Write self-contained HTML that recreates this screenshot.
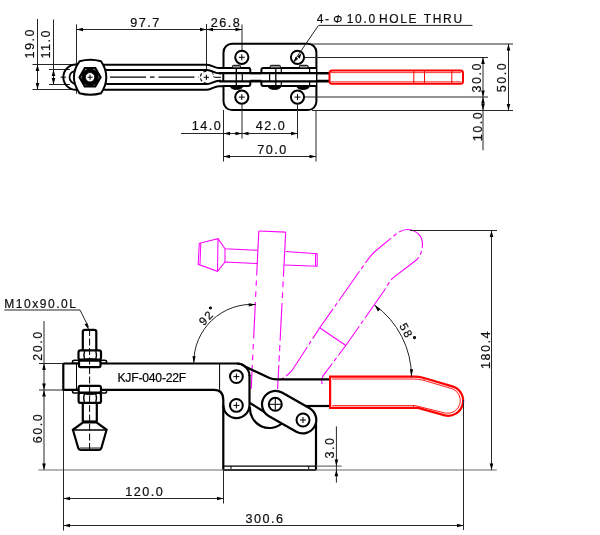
<!DOCTYPE html>
<html><head><meta charset="utf-8"><style>
html,body{margin:0;padding:0;background:#fff;width:600px;height:535px;overflow:hidden}
svg{display:block;will-change:transform}
text{font-family:"Liberation Sans",sans-serif;stroke:#000;stroke-width:0.2px}
</style></head><body>
<svg width="600" height="535" viewBox="0 0 600 535">
<line x1="37.5" y1="19" x2="37.5" y2="90" stroke="#262626" stroke-width="1" />
<polygon points="37.50,64.50 39.30,71.00 35.70,71.00" fill="#000"/>
<polygon points="37.50,89.50 35.70,83.00 39.30,83.00" fill="#000"/>
<line x1="32.5" y1="64.5" x2="76" y2="64.5" stroke="#262626" stroke-width="1" />
<line x1="32.5" y1="89.5" x2="76" y2="89.5" stroke="#262626" stroke-width="1" />
<text x="34.5" y="43.2" font-size="12.6" letter-spacing="1.5" text-anchor="middle" fill="#111" transform="rotate(-90 34.5 43.2)" >19.0</text>
<line x1="53.5" y1="19.5" x2="53.5" y2="85" stroke="#262626" stroke-width="1" />
<polygon points="53.50,69.50 55.30,76.00 51.70,76.00" fill="#000"/>
<polygon points="53.50,84.50 51.70,78.00 55.30,78.00" fill="#000"/>
<line x1="49" y1="69.5" x2="70" y2="69.5" stroke="#262626" stroke-width="1" />
<line x1="49" y1="84.5" x2="70" y2="84.5" stroke="#262626" stroke-width="1" />
<text x="50.5" y="43.8" font-size="12.6" letter-spacing="1.5" text-anchor="middle" fill="#111" transform="rotate(-90 50.5 43.8)" >11.0</text>
<line x1="76.5" y1="29.5" x2="242" y2="29.5" stroke="#262626" stroke-width="1" />
<line x1="76.5" y1="24.4" x2="76.5" y2="93.75" stroke="#262626" stroke-width="1" />
<line x1="206.5" y1="24" x2="206.5" y2="71" stroke="#262626" stroke-width="1" />
<line x1="242" y1="24.5" x2="242" y2="50" stroke="#262626" stroke-width="1" />
<polygon points="76.50,29.50 83.00,27.70 83.00,31.30" fill="#000"/>
<polygon points="206.50,29.50 200.00,31.30 200.00,27.70" fill="#000"/>
<polygon points="206.50,29.50 213.00,27.70 213.00,31.30" fill="#000"/>
<polygon points="242.00,29.50 235.50,31.30 235.50,27.70" fill="#000"/>
<text x="145.5" y="27" font-size="12.6" letter-spacing="1.5" text-anchor="middle" fill="#111" >97.7</text>
<text x="226" y="27" font-size="12.6" letter-spacing="1.5" text-anchor="middle" fill="#111" >26.8</text>
<text x="316.8" y="22.8" font-size="12" letter-spacing="1.6" text-anchor="start" fill="#111" >4-</text>
<text x="333.2" y="22.6" font-size="10.5" letter-spacing="0" text-anchor="start" fill="#111" font-style="italic">&#934;</text>
<text x="346.8" y="22.8" font-size="12" letter-spacing="1.65" text-anchor="start" fill="#111" >10.0</text>
<text x="379" y="22.8" font-size="12" letter-spacing="1.65" text-anchor="start" fill="#111" >HOLE</text>
<text x="423.8" y="22.8" font-size="12" letter-spacing="1.65" text-anchor="start" fill="#111" >THRU</text>
<line x1="318.5" y1="25.4" x2="472.5" y2="25.4" stroke="#262626" stroke-width="1" />
<path d="M76,64.5 A12.6,12.6 0 0 0 76,89.8" stroke="#000" stroke-width="2" fill="none" />
<path d="M76,70.8 A6.5,6.5 0 0 0 76,83.8" stroke="#000" stroke-width="1.8" fill="none" />
<path d="M76,64.75 L207,64.75 C212,64.75 214,68 219,68 L250,68" stroke="#000" stroke-width="2" fill="none" />
<path d="M76,69.9 L207,69.9 C212,69.9 214,73.3 219,73.3 L330,73.3" stroke="#000" stroke-width="2" fill="none" />
<path d="M76,84.1 L207,84.1 C212,84.1 214,80.8 219,80.8 L330,80.8" stroke="#000" stroke-width="2" fill="none" />
<path d="M76,89.75 L207,89.75 C212,89.75 214,86.2 219,86.2 L223,86.2" stroke="#000" stroke-width="2" fill="none" />
<line x1="110" y1="77.2" x2="199" y2="77.2" stroke="#000" stroke-width="1.2" stroke-dasharray="36 4 4.5 4"/>
<line x1="60.5" y1="77.2" x2="66" y2="77.2" stroke="#000" stroke-width="1" />
<path d="M79.5,61.3 Q90.5,58.3 101,61.3 C105,67 106.3,71 106.3,77.3 C106.3,83.5 105,87.5 101,93.3 Q90.5,96.3 79.5,93.3 C76,88 73.9,83.5 73.9,77.3 C73.9,71 76,66 79.5,61.3 Z" stroke="#000" stroke-width="2" fill="#fff" />
<polygon points="100.55,77.25 95.30,86.34 84.80,86.34 79.55,77.25 84.80,68.16 95.30,68.16" fill="#fff" stroke="#000" stroke-width="2.2"/>
<circle cx="90.05" cy="77.25" r="8.7" stroke="#000" stroke-width="0" fill="#000" />
<circle cx="90.05" cy="77.25" r="4.7" stroke="#000" stroke-width="0.9" fill="#fff" />
<line x1="87.55" y1="77.25" x2="92.55" y2="77.25" stroke="#000" stroke-width="1" />
<line x1="90.05" y1="74.75" x2="90.05" y2="79.75" stroke="#000" stroke-width="1" />
<path d="M206.4,71.2 A6,6 0 0 0 206.4,83.2" stroke="#000" stroke-width="1.1" fill="none" stroke-dasharray="3.2 2"/>
<path d="M212.2,72.2 Q213.5,75 214.3,77.6" stroke="#000" stroke-width="1" fill="none" stroke-dasharray="2.5 1.5"/>
<line x1="203.8" y1="77.3" x2="209.0" y2="77.3" stroke="#000" stroke-width="1" />
<line x1="206.4" y1="74.7" x2="206.4" y2="79.89999999999999" stroke="#000" stroke-width="1" />
<line x1="214.8" y1="77.3" x2="222" y2="77.3" stroke="#000" stroke-width="1" />
<rect x="223.5" y="43.7" width="92.9" height="66.4" rx="8.5" ry="8.5" fill="none" stroke="#000" stroke-width="2"/>
<line x1="297.5" y1="57.5" x2="488" y2="57.5" stroke="#262626" stroke-width="1" />
<line x1="297.5" y1="97" x2="488" y2="97" stroke="#262626" stroke-width="1" />
<line x1="312" y1="44" x2="513" y2="44" stroke="#262626" stroke-width="1" />
<line x1="312" y1="110.5" x2="513" y2="110.5" stroke="#262626" stroke-width="1" />
<circle cx="241.8" cy="57.3" r="6.6" stroke="#000" stroke-width="2" fill="#fff" />
<line x1="238.8" y1="57.3" x2="244.8" y2="57.3" stroke="#000" stroke-width="1" />
<line x1="241.8" y1="54.3" x2="241.8" y2="60.3" stroke="#000" stroke-width="1" />
<circle cx="297.5" cy="57.3" r="6.6" stroke="#000" stroke-width="2" fill="#fff" />
<circle cx="241.8" cy="97.1" r="6.6" stroke="#000" stroke-width="2" fill="#fff" />
<line x1="238.8" y1="97.1" x2="244.8" y2="97.1" stroke="#000" stroke-width="1" />
<line x1="241.8" y1="94.1" x2="241.8" y2="100.1" stroke="#000" stroke-width="1" />
<circle cx="297.5" cy="97.1" r="6.6" stroke="#000" stroke-width="2" fill="#fff" />
<line x1="294.5" y1="97.1" x2="300.5" y2="97.1" stroke="#000" stroke-width="1" />
<line x1="297.5" y1="94.1" x2="297.5" y2="100.1" stroke="#000" stroke-width="1" />
<line x1="318.5" y1="25.4" x2="293" y2="62.5" stroke="#262626" stroke-width="1" />
<polygon points="301.60,53.00 299.85,58.45 297.20,56.66" fill="#000"/>
<polygon points="293.80,62.30 295.55,56.85 298.20,58.64" fill="#000"/>
<rect x="221" y="69" width="29.3" height="16" fill="#fff"/>
<line x1="223.3" y1="73.2" x2="223.3" y2="81.3" stroke="#000" stroke-width="2" />
<rect x="261.4" y="68" width="54.6" height="18" fill="#fff"/>
<path d="M223.5,68 L248.3,68 Q250.3,68 250.3,70 L250.3,73.1 M223.5,86 L248.3,86 Q250.3,86 250.3,84 L250.3,81.4" stroke="#000" stroke-width="2" fill="none" />
<path d="M261.4,73.1 L261.4,70 Q261.4,68 263.4,68 L316,68 M261.4,81.4 L261.4,84 Q261.4,86 263.4,86 L316,86" stroke="#000" stroke-width="2" fill="none" />
<line x1="236.3" y1="68" x2="236.3" y2="86" stroke="#000" stroke-width="1.3" />
<line x1="242.3" y1="73.1" x2="242.3" y2="81.4" stroke="#000" stroke-width="1.2" />
<line x1="269.6" y1="73.1" x2="269.6" y2="81.4" stroke="#000" stroke-width="1.2" />
<line x1="275.8" y1="68" x2="275.8" y2="86" stroke="#000" stroke-width="1.3" />
<line x1="281.3" y1="68" x2="281.3" y2="73.1" stroke="#000" stroke-width="1.2" />
<line x1="281.3" y1="81.4" x2="281.3" y2="86" stroke="#000" stroke-width="1.2" />
<line x1="309.6" y1="68" x2="309.6" y2="73.1" stroke="#000" stroke-width="1.2" />
<line x1="309.6" y1="81.4" x2="309.6" y2="86" stroke="#000" stroke-width="1.2" />
<path d="M219,73.2 L330,73.2" stroke="#000" stroke-width="2.2" fill="none" />
<path d="M219,81.3 L330,81.3" stroke="#000" stroke-width="2.2" fill="none" />
<rect x="232.5" y="65.3" width="8.0" height="2.7" rx="1" fill="#999" stroke="#000" stroke-width="1"/>
<rect x="270.2" y="65.3" width="10.199999999999989" height="2.7" rx="1" fill="#999" stroke="#000" stroke-width="1"/>
<rect x="299.3" y="65.3" width="8.800000000000011" height="2.7" rx="1" fill="#999" stroke="#000" stroke-width="1"/>
<path d="M230,86 Q231,89.4 236.5,89.4 Q242,89.4 243,86 Z" stroke="#000" stroke-width="1" fill="#000" />
<path d="M267.8,86 Q268.8,89.4 274.55,89.4 Q280.3,89.4 281.3,86 Z" stroke="#000" stroke-width="1" fill="#000" />
<path d="M296.4,86 Q297.4,89.4 303.1,89.4 Q308.8,89.4 309.8,86 Z" stroke="#000" stroke-width="1" fill="#000" />
<rect x="329.5" y="70.5" width="133.5" height="13.3" rx="2.5" ry="2.5" fill="#fff" stroke="#f00" stroke-width="2"/>
<line x1="331" y1="72.6" x2="461" y2="72.6" stroke="#f00" stroke-width="0.8" />
<line x1="331" y1="81.8" x2="461" y2="81.8" stroke="#f00" stroke-width="0.8" />
<line x1="413.8" y1="70.5" x2="413.8" y2="83.8" stroke="#f00" stroke-width="1" />
<line x1="424.5" y1="70.5" x2="424.5" y2="83.8" stroke="#f00" stroke-width="1" />
<line x1="451.8" y1="70.5" x2="451.8" y2="83.8" stroke="#f00" stroke-width="1" />
<line x1="483" y1="57.5" x2="483" y2="150.3" stroke="#262626" stroke-width="1" />
<polygon points="483.00,57.50 484.80,64.00 481.20,64.00" fill="#000"/>
<polygon points="483.00,97.00 481.20,90.50 484.80,90.50" fill="#000"/>
<polygon points="483.00,97.00 484.80,103.50 481.20,103.50" fill="#000"/>
<polygon points="483.00,110.30 481.20,103.80 484.80,103.80" fill="#000"/>
<text x="481" y="77.2" font-size="12.6" letter-spacing="1.5" text-anchor="middle" fill="#111" transform="rotate(-90 481 77.2)" >30.0</text>
<text x="481.5" y="126" font-size="12.6" letter-spacing="1.5" text-anchor="middle" fill="#111" transform="rotate(-90 481.5 126)" >10.0</text>
<line x1="508.5" y1="44" x2="508.5" y2="110.5" stroke="#262626" stroke-width="1" />
<polygon points="508.50,44.00 510.30,50.50 506.70,50.50" fill="#000"/>
<polygon points="508.50,110.50 506.70,104.00 510.30,104.00" fill="#000"/>
<text x="506" y="77" font-size="12.6" letter-spacing="1.5" text-anchor="middle" fill="#111" transform="rotate(-90 506 77)" >50.0</text>
<line x1="223.5" y1="110" x2="223.5" y2="161.5" stroke="#262626" stroke-width="1" />
<line x1="316" y1="110" x2="316" y2="161.5" stroke="#262626" stroke-width="1" />
<line x1="242" y1="104" x2="242" y2="138.5" stroke="#262626" stroke-width="1" />
<line x1="297.5" y1="104" x2="297.5" y2="138.5" stroke="#262626" stroke-width="1" />
<line x1="181" y1="133.5" x2="297.5" y2="133.5" stroke="#262626" stroke-width="1" />
<polygon points="223.50,133.50 230.00,131.70 230.00,135.30" fill="#000"/>
<polygon points="242.00,133.50 235.50,135.30 235.50,131.70" fill="#000"/>
<polygon points="242.00,133.50 248.50,131.70 248.50,135.30" fill="#000"/>
<polygon points="297.50,133.50 291.00,135.30 291.00,131.70" fill="#000"/>
<text x="207" y="130.3" font-size="12.6" letter-spacing="1.5" text-anchor="middle" fill="#111" >14.0</text>
<text x="271" y="130.3" font-size="12.6" letter-spacing="1.5" text-anchor="middle" fill="#111" >42.0</text>
<line x1="223.5" y1="156.5" x2="316" y2="156.5" stroke="#262626" stroke-width="1" />
<polygon points="223.50,156.50 230.00,154.70 230.00,158.30" fill="#000"/>
<polygon points="316.00,156.50 309.50,158.30 309.50,154.70" fill="#000"/>
<text x="272.5" y="154.3" font-size="12.6" letter-spacing="1.5" text-anchor="middle" fill="#111" >70.0</text>
<path d="M258.8,231 L285.7,232.1" stroke="#ff00ff" stroke-width="1.1" fill="none" />
<line x1="258.8" y1="231" x2="256.66" y2="275.5" stroke="#ff00ff" stroke-width="1.1" />
<line x1="256.42" y1="280.5" x2="256.17" y2="285.7" stroke="#ff00ff" stroke-width="1.1" />
<line x1="255.9" y1="291.2" x2="255.63" y2="296.9" stroke="#ff00ff" stroke-width="1.1" />
<line x1="255.38" y1="302" x2="253.63" y2="338.4" stroke="#ff00ff" stroke-width="1.1" />
<line x1="253.36" y1="344" x2="253.1" y2="349.5" stroke="#ff00ff" stroke-width="1.1" />
<line x1="252.86" y1="354.5" x2="252.59" y2="360.2" stroke="#ff00ff" stroke-width="1.1" />
<line x1="252.35" y1="365" x2="251.2" y2="389" stroke="#ff00ff" stroke-width="1.1" />
<line x1="285.7" y1="232.1" x2="283.4" y2="276.7" stroke="#ff00ff" stroke-width="1.1" />
<line x1="283.17" y1="281.2" x2="282.85" y2="287.4" stroke="#ff00ff" stroke-width="1.1" />
<line x1="282.59" y1="292.4" x2="282.3" y2="298" stroke="#ff00ff" stroke-width="1.1" />
<line x1="282.04" y1="303" x2="280.09" y2="340.8" stroke="#ff00ff" stroke-width="1.1" />
<line x1="279.87" y1="345" x2="279.56" y2="351.1" stroke="#ff00ff" stroke-width="1.1" />
<line x1="279.33" y1="355.4" x2="279.02" y2="361.5" stroke="#ff00ff" stroke-width="1.1" />
<line x1="278.84" y1="365" x2="277.6" y2="389" stroke="#ff00ff" stroke-width="1.1" />
<path d="M285.7,251.5 L317.2,253.8 L317.2,266.2 L284.5,265" stroke="#ff00ff" stroke-width="1.05" fill="none" />
<line x1="315.5" y1="254" x2="315.5" y2="266" stroke="#ff00ff" stroke-width="1" />
<path d="M257.7,250.3 L225,248.7 L218,238.7 L199.3,243.3 L198.2,264.3 L217.5,271.3 L225,262 L257.3,263.6" stroke="#ff00ff" stroke-width="1.05" fill="none" />
<line x1="225" y1="248.7" x2="225" y2="262" stroke="#ff00ff" stroke-width="1.05" />
<line x1="218" y1="238.7" x2="217.5" y2="271.3" stroke="#ff00ff" stroke-width="1.05" />
<line x1="200.8" y1="243" x2="200" y2="264.5" stroke="#ff00ff" stroke-width="1" />
<path d="M277.6,381 Q285,378 291.9,370.7 L319.7,327.8 L364,265 Q369,257 375.5,251 L398,232.5 C410,225 423,233 422.5,245 C422,252 420,256 417,259.5 L393,277.8 Q389,282 386,288 L345.8,345.5 L342.4,350 L323,375.8 Q321,380 322.2,384.2" stroke="#ff00ff" stroke-width="1.1" fill="none" stroke-dasharray="36 3 4 3" stroke-dashoffset="-10"/>
<line x1="319.7" y1="327.8" x2="345.8" y2="345.5" stroke="#ff00ff" stroke-width="1.1" />
<path d="M63.3,363.5 L237,363.5 Q241.5,363.5 245,366.5 L269.5,378 Q272.5,379.3 276.5,379.3 L331,379.3" stroke="#000" stroke-width="2.2" fill="none" />
<path d="M63.3,363.3 L63.3,389.8 L214,389.8 Q223.3,389.8 223.3,400 L223.3,470" stroke="#000" stroke-width="2.2" fill="none" />
<line x1="76.5" y1="363.3" x2="76.5" y2="389.8" stroke="#000" stroke-width="1" />
<line x1="219.6" y1="363.3" x2="219.6" y2="389.8" stroke="#000" stroke-width="1" />
<text x="117.4" y="382.2" font-size="12.2" letter-spacing="-0.22" text-anchor="start" fill="#000" >KJF-040-22F</text>
<path d="M249.5,375 L249.5,405 A13.1,13.1 0 0 1 223.3,405" stroke="#000" stroke-width="2.2" fill="none" />
<path d="M237,363.5 A12.5,12.5 0 0 1 249.5,376" stroke="#000" stroke-width="2.2" fill="none" />
<circle cx="236.4" cy="376.6" r="6.4" stroke="#000" stroke-width="2" fill="#fff" />
<line x1="233.4" y1="376.6" x2="239.4" y2="376.6" stroke="#000" stroke-width="1" />
<line x1="236.4" y1="373.6" x2="236.4" y2="379.6" stroke="#000" stroke-width="1" />
<circle cx="236.4" cy="405.4" r="6.4" stroke="#000" stroke-width="2" fill="#fff" />
<line x1="233.4" y1="405.4" x2="239.4" y2="405.4" stroke="#000" stroke-width="1" />
<line x1="236.4" y1="402.4" x2="236.4" y2="408.4" stroke="#000" stroke-width="1" />
<path d="M250,403 L266,413" stroke="#000" stroke-width="2.2" fill="none" />
<path d="M250,407 A19.5,19.5 0 0 0 283,422.5" stroke="#000" stroke-width="2.2" fill="none" />
<path d="M268.64,416.04 L296.34,431.74 A13.5,13.5 0 0 0 309.66,408.26 L281.96,392.56 A13.5,13.5 0 0 0 268.64,416.04 Z" fill="#fff" stroke="#000" stroke-width="2.2"/>
<circle cx="275.3" cy="404.3" r="6.5" stroke="#000" stroke-width="2" fill="#fff" />
<line x1="268.8" y1="404.3" x2="281.8" y2="404.3" stroke="#000" stroke-width="1" />
<line x1="275.3" y1="397.8" x2="275.3" y2="410.8" stroke="#000" stroke-width="1" />
<circle cx="303" cy="420" r="6.5" stroke="#000" stroke-width="2" fill="#fff" />
<line x1="300" y1="420" x2="306" y2="420" stroke="#000" stroke-width="1" />
<line x1="303" y1="417" x2="303" y2="423" stroke="#000" stroke-width="1" />
<path d="M306,406 L331,406" stroke="#000" stroke-width="2.2" fill="none" />
<path d="M316,423 L316,470" stroke="#000" stroke-width="2.2" fill="none" />
<path d="M223.3,470 L316,470" stroke="#000" stroke-width="2.2" fill="none" />
<line x1="224" y1="466.2" x2="316" y2="466.2" stroke="#000" stroke-width="1.2" />
<line x1="231" y1="466" x2="231" y2="470" stroke="#000" stroke-width="1" />
<line x1="308.7" y1="466" x2="308.7" y2="470" stroke="#000" stroke-width="1" />
<path d="M330.1,376.7 L414,376.7 Q419,376.7 424,378 L453.1,386.6 A15,15 0 0 1 444.9,415.4 L418,407.9 Q416,407.9 414.7,407.9 L330.1,407.9 Z" stroke="#ff0000" stroke-width="2.2" fill="#fff" />
<path d="M332.4,379 L413.5,379 Q418.5,379 423.5,380.3 L452.4,388.8 A12.7,12.7 0 0 1 445.5,413.1 L415,405.6 L332.4,405.6" stroke="#ff0000" stroke-width="0.9" fill="none" />
<line x1="413.5" y1="405.6" x2="413.5" y2="407.9" stroke="#ff0000" stroke-width="0.9" />
<line x1="424" y1="378" x2="424" y2="380.3" stroke="#ff0000" stroke-width="0.9" />
<path d="M82.8,350.4 L82.8,332 Q82.8,329.8 85,329.8 L94.1,329.8 Q96.3,329.8 96.3,332 L96.3,350.4" stroke="#000" stroke-width="2.2" fill="#fff" />
<path d="M72.5,363 L72.5,361.8 Q72.5,360.2 74.5,360.2 L79,360.2 L79,363 Z" stroke="#000" stroke-width="1.5" fill="#fff" />
<path d="M106.6,363 L106.6,361.8 Q106.6,360.2 104.6,360.2 L100.5,360.2 L100.5,363 Z" stroke="#000" stroke-width="1.5" fill="#fff" />
<rect x="78.5" y="350.4" width="22.5" height="9.3" rx="2" ry="2" fill="#fff" stroke="#000" stroke-width="2.2"/>
<path d="M84.6,351 Q83.2,355 84.6,359.5 M95.8,351 Q97.2,355 95.8,359.5" stroke="#000" stroke-width="1.4" fill="none" />
<path d="M84.6,359.3 Q89.9,357.8 95.8,359.3" stroke="#000" stroke-width="1" fill="none" />
<rect x="79" y="360.6" width="21.5" height="6.6" rx="1.6" ry="1.6" fill="#fff" stroke="#000" stroke-width="2.2"/>
<path d="M72.5,390.3 L72.5,391.4 Q72.5,393 74.5,393 L79,393 L79,390.3 Z" stroke="#000" stroke-width="1.5" fill="#fff" />
<path d="M106.6,390.3 L106.6,391.4 Q106.6,393 104.6,393 L100.5,393 L100.5,390.3 Z" stroke="#000" stroke-width="1.5" fill="#fff" />
<rect x="78.6" y="385.8" width="22.4" height="6.8" rx="1.8" ry="1.8" fill="#fff" stroke="#000" stroke-width="2.2"/>
<rect x="78.6" y="393" width="22.4" height="9.9" rx="2" ry="2" fill="#fff" stroke="#000" stroke-width="2.2"/>
<path d="M84.4,393.5 Q83,398 84.4,402.5 M95.8,393.5 Q97.2,398 95.8,402.5" stroke="#000" stroke-width="1.4" fill="none" />
<path d="M84.4,394 Q89.9,395.5 95.8,394" stroke="#000" stroke-width="1" fill="none" />
<path d="M82.8,402.9 L82.8,421.8 M96.8,402.9 L96.8,421.8" stroke="#000" stroke-width="2.2" fill="none" />
<path d="M82.8,421.8 L96.8,421.8" stroke="#000" stroke-width="2.8" fill="none" />
<path d="M82.8,422.5 L96.8,422.5 L106.6,429.8 L101.3,448.2 Q100.6,450 98.6,450 L81,450 Q79,450 78.3,448.2 L72.9,429.8 Z" stroke="#000" stroke-width="2.2" fill="#fff" />
<line x1="73" y1="430" x2="106.5" y2="430" stroke="#000" stroke-width="1.6" />
<rect x="80" y="447.2" width="20" height="2" fill="#777"/>
<line x1="89.6" y1="329" x2="89.6" y2="449.6" stroke="#000" stroke-width="1" stroke-dasharray="7 2.5"/>
<text x="4.2" y="307.8" font-size="12" letter-spacing="1.55" text-anchor="start" fill="#111" >M10x90.0L</text>
<line x1="4.4" y1="310" x2="80" y2="310" stroke="#262626" stroke-width="1" />
<line x1="80" y1="310" x2="88.5" y2="327" stroke="#262626" stroke-width="1" />
<polygon points="89.00,330.00 84.58,324.37 87.28,323.05" fill="#000"/>
<line x1="44" y1="321" x2="44" y2="470" stroke="#262626" stroke-width="1" />
<polygon points="44.00,363.50 45.80,370.00 42.20,370.00" fill="#000"/>
<polygon points="44.00,390.00 42.20,383.50 45.80,383.50" fill="#000"/>
<polygon points="44.00,390.00 45.80,396.50 42.20,396.50" fill="#000"/>
<polygon points="44.00,470.00 42.20,463.50 45.80,463.50" fill="#000"/>
<line x1="39" y1="363.5" x2="63" y2="363.5" stroke="#262626" stroke-width="1" />
<line x1="39" y1="390" x2="63" y2="390" stroke="#262626" stroke-width="1" />
<text x="42" y="345.5" font-size="12.6" letter-spacing="1.5" text-anchor="middle" fill="#111" transform="rotate(-90 42 345.5)" >20.0</text>
<text x="42" y="428" font-size="12.6" letter-spacing="1.5" text-anchor="middle" fill="#111" transform="rotate(-90 42 428)" >60.0</text>
<line x1="38.4" y1="470" x2="496.8" y2="470" stroke="#6a6a6a" stroke-width="1.2" />
<line x1="316" y1="466.1" x2="341.6" y2="466.1" stroke="#6a6a6a" stroke-width="1.2" />
<line x1="63.5" y1="389.8" x2="63.5" y2="530.5" stroke="#262626" stroke-width="1" />
<line x1="223.5" y1="470" x2="223.5" y2="503.5" stroke="#262626" stroke-width="1" />
<line x1="63.5" y1="498.5" x2="223.5" y2="498.5" stroke="#262626" stroke-width="1" />
<polygon points="63.50,498.50 70.00,496.70 70.00,500.30" fill="#000"/>
<polygon points="223.50,498.50 217.00,500.30 217.00,496.70" fill="#000"/>
<text x="144.8" y="496" font-size="12.6" letter-spacing="1.5" text-anchor="middle" fill="#111" >120.0</text>
<line x1="463.5" y1="400" x2="463.5" y2="530" stroke="#262626" stroke-width="1" />
<line x1="63.5" y1="525.5" x2="463.5" y2="525.5" stroke="#262626" stroke-width="1" />
<polygon points="63.50,525.50 70.00,523.70 70.00,527.30" fill="#000"/>
<polygon points="463.50,525.50 457.00,527.30 457.00,523.70" fill="#000"/>
<text x="265" y="523.3" font-size="12.6" letter-spacing="1.5" text-anchor="middle" fill="#111" >300.6</text>
<line x1="336.4" y1="426.4" x2="336.4" y2="482.7" stroke="#262626" stroke-width="1" />
<polygon points="336.40,466.10 334.60,459.60 338.20,459.60" fill="#000"/>
<polygon points="336.40,469.80 338.20,476.30 334.60,476.30" fill="#000"/>
<text x="333.5" y="447.5" font-size="12.6" letter-spacing="1.5" text-anchor="middle" fill="#111" transform="rotate(-90 333.5 447.5)" >3.0</text>
<line x1="410" y1="230.5" x2="497" y2="230.5" stroke="#262626" stroke-width="1" />
<line x1="491.5" y1="230.5" x2="491.5" y2="470" stroke="#262626" stroke-width="1" />
<polygon points="491.50,230.50 493.30,237.00 489.70,237.00" fill="#000"/>
<polygon points="491.50,470.00 489.70,463.50 493.30,463.50" fill="#000"/>
<text x="489.5" y="349.5" font-size="12.6" letter-spacing="1.5" text-anchor="middle" fill="#111" transform="rotate(-90 489.5 349.5)" >180.4</text>
<path d="M193.8,363 A58,58 0 0 1 255.7,304.5" stroke="#222" stroke-width="1" fill="none" />
<polygon points="193.80,363.30 192.45,356.25 195.64,356.36" fill="#000"/>
<polygon points="255.70,304.50 248.79,306.46 248.63,303.27" fill="#000"/>
<text x="211" y="318.8" font-size="11.6" letter-spacing="1.6" text-anchor="middle" fill="#111" transform="rotate(-46 211 318.8)">92<tspan font-size="8" dy="-3.5" style="stroke-width:0.9px">°</tspan></text>
<path d="M374.6,305 A88.7,88.7 0 0 1 411.5,377" stroke="#222" stroke-width="1" fill="none" />
<polygon points="374.60,305.00 380.33,309.33 377.87,311.39" fill="#000"/>
<polygon points="411.50,376.20 409.90,369.20 413.10,369.20" fill="#000"/>
<text x="404" y="335" font-size="11.6" letter-spacing="1.6" text-anchor="middle" fill="#111" transform="rotate(62 404 335)">58<tspan font-size="8" dy="-3.5" style="stroke-width:0.9px">°</tspan></text>
</svg>
</body></html>
